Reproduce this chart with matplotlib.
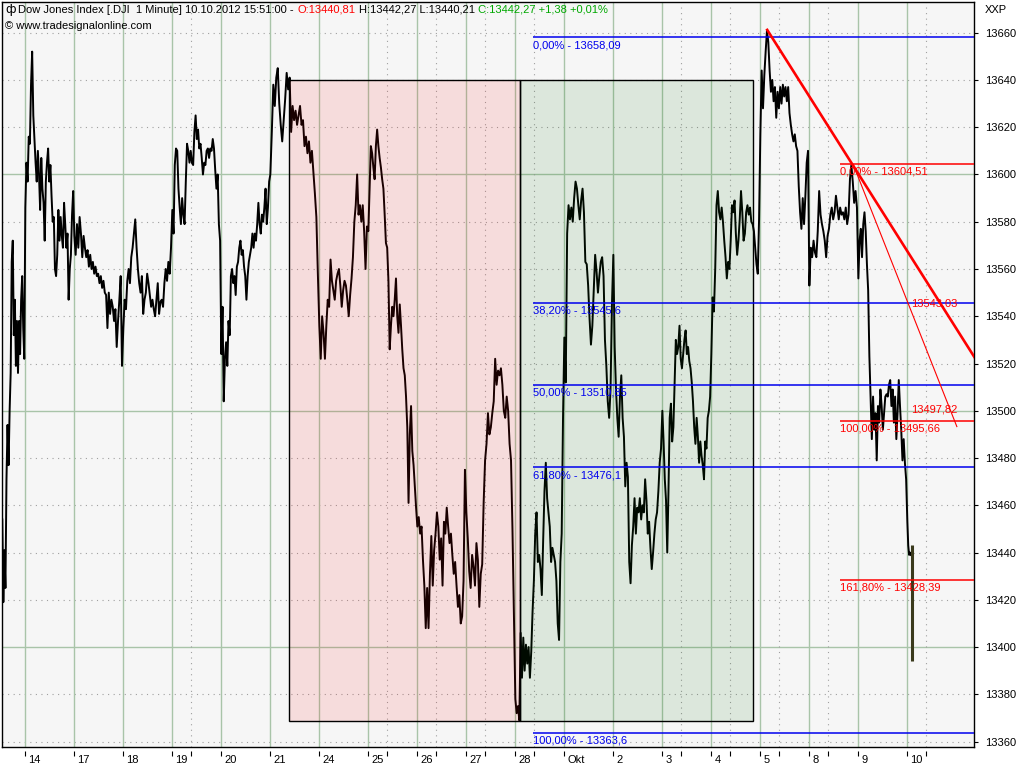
import numpy as np
import matplotlib.pyplot as plt
from matplotlib.patches import Rectangle
from matplotlib.transforms import ScaledTranslation

plt.rcParams['font.family'] = ['Liberation Sans', 'DejaVu Sans']
plt.rcParams['font.size'] = 8

# sessions on the x axis, one unit per trading day
day_labels = ['14', '17', '18', '19', '20', '21', '24', '25', '26', '27', '28',
              'Okt', '2', '3', '4', '5', '8', '9', '10']
minor_days = [3, 7, 8, 9, 10, 13, 14, 15, 16, 18]

s_13 = [13454, 13419, 13441, 13425, 13471, 13494, 13477, 13500, 13516, 13563, 13572,
        13532, 13547, 13519, 13538, 13516, 13538, 13524, 13547, 13557, 13535, 13522]
s_14 = [13586, 13605, 13597, 13616, 13613, 13638, 13652, 13625, 13615, 13605, 13597,
        13610, 13600, 13585, 13607, 13594, 13588, 13572, 13597, 13605, 13611, 13597,
        13604, 13591, 13580, 13582, 13560, 13557, 13566, 13585, 13572, 13582, 13574,
        13569, 13588, 13579, 13569, 13575, 13547, 13560, 13566, 13583, 13593]
s_17 = [13574, 13566, 13579, 13569, 13582, 13575, 13565, 13574, 13569, 13565, 13568,
        13561, 13566, 13560, 13563, 13558, 13561, 13557, 13558, 13554, 13557, 13552,
        13555, 13550, 13549, 13535, 13550, 13541, 13547, 13544, 13538, 13543, 13527,
        13538, 13547, 13557, 13519]
s_18 = [13535, 13547, 13543, 13555, 13560, 13554, 13565, 13569, 13575, 13581, 13569,
        13560, 13554, 13550, 13557, 13541, 13547, 13550, 13558, 13554, 13549, 13544,
        13547, 13543, 13540, 13547, 13554, 13541, 13546, 13547, 13544, 13554, 13560,
        13555, 13563, 13558, 13569]
s_19 = [13585, 13575, 13604, 13611, 13610, 13594, 13586, 13579, 13590, 13583, 13579,
        13597, 13613, 13610, 13605, 13610, 13605, 13604, 13618, 13625, 13615, 13619,
        13611, 13613, 13607, 13600, 13605, 13604, 13610, 13611, 13607, 13611, 13610,
        13615, 13611, 13602, 13594, 13600, 13579, 13572]
s_20 = [13524, 13544, 13504, 13522, 13529, 13519, 13538, 13532, 13557, 13560, 13554,
        13557, 13549, 13561, 13563, 13569, 13572, 13566, 13568, 13561, 13557, 13547,
        13557, 13563, 13566, 13569, 13575, 13569, 13575, 13572, 13579, 13588, 13579,
        13575, 13583, 13580, 13586, 13594, 13579, 13586, 13597]
s_21 = [13600, 13618, 13638, 13629, 13641, 13645, 13630, 13621, 13614, 13623, 13632,
        13643, 13636, 13641, 13618, 13629, 13623, 13627, 13621, 13625, 13629, 13621,
        13623, 13612, 13616, 13609, 13614, 13605, 13610, 13601, 13592, 13582, 13558]
s_24 = [13536, 13522, 13540, 13533, 13522, 13536, 13547, 13544, 13564, 13555, 13551,
        13547, 13555, 13558, 13560, 13553, 13544, 13551, 13555, 13553, 13547, 13540,
        13549, 13556, 13565, 13580, 13587, 13600, 13583, 13587, 13580, 13587, 13576,
        13560, 13578]
s_25 = [13576, 13594, 13612, 13609, 13603, 13598, 13612, 13619, 13612, 13607, 13603,
        13598, 13594, 13583, 13571, 13569, 13555, 13526, 13536, 13544, 13540, 13547,
        13556, 13540, 13533, 13545, 13536, 13526, 13518, 13515, 13506, 13493, 13461,
        13490, 13502, 13483, 13477, 13468, 13459]
s_26 = [13451, 13455, 13448, 13451, 13437, 13426, 13408, 13425, 13408, 13431, 13447,
        13426, 13441, 13448, 13457, 13451, 13437, 13446, 13426, 13453, 13448, 13459,
        13451, 13444, 13448, 13439, 13431, 13436, 13426, 13417, 13422, 13410, 13413,
        13428, 13475]
s_27 = [13457, 13446, 13432, 13425, 13439, 13434, 13426, 13444, 13437, 13417, 13431,
        13435, 13461, 13479, 13486, 13499, 13490, 13493, 13499, 13504, 13522, 13511,
        13517, 13515, 13518, 13511, 13500, 13497, 13506, 13500, 13486, 13479, 13450,
        13414]
s_28 = [13378, 13372, 13375, 13369, 13406, 13387, 13404, 13390, 13401, 13393, 13400,
        13387, 13398, 13415, 13428, 13448, 13457, 13436, 13439, 13433, 13422, 13445,
        13466, 13478, 13463, 13457, 13451, 13436, 13442, 13439, 13436, 13428, 13410,
        13403, 13436, 13448, 13497]
s_01 = [13531, 13512, 13575, 13587, 13581, 13586, 13580, 13590, 13597, 13594, 13587,
        13581, 13589, 13594, 13584, 13563, 13562, 13553, 13539, 13528, 13536, 13551,
        13566, 13559, 13550, 13557, 13563, 13565, 13557, 13530, 13519, 13504, 13497,
        13509, 13545]
s_02 = [13566, 13527, 13509, 13497, 13489, 13506, 13515, 13497, 13489, 13468, 13478,
        13472, 13436, 13427, 13443, 13451, 13463, 13448, 13459, 13457, 13463, 13454,
        13460, 13457, 13471, 13462, 13448, 13453, 13442, 13433, 13440, 13448, 13454,
        13457, 13466, 13478, 13484]
s_03 = [13500, 13487, 13471, 13462, 13440, 13466, 13497, 13503, 13487, 13493, 13512,
        13530, 13524, 13527, 13536, 13522, 13518, 13524, 13530, 13534, 13524, 13527,
        13521, 13518, 13512, 13504, 13493, 13486, 13497, 13489, 13478, 13487, 13481,
        13477, 13471, 13487, 13484, 13497, 13500, 13506]
s_04 = [13524, 13548, 13542, 13560, 13587, 13593, 13584, 13581, 13586, 13580, 13572,
        13565, 13556, 13563, 13560, 13572, 13587, 13584, 13589, 13575, 13566, 13572,
        13581, 13593, 13584, 13572, 13575, 13584, 13587, 13583, 13586, 13580, 13579,
        13576, 13569, 13562, 13558, 13581]
s_05 = [13617, 13644, 13628, 13642, 13652, 13661, 13656, 13644, 13635, 13640, 13631,
        13637, 13624, 13635, 13628, 13637, 13630, 13638, 13633, 13637, 13631, 13637,
        13626, 13621, 13617, 13614, 13617, 13612, 13610, 13595, 13584, 13577, 13590,
        13579, 13591, 13605, 13610]
s_08 = [13553, 13569, 13565, 13572, 13567, 13565, 13576, 13593, 13583, 13579, 13576,
        13572, 13565, 13574, 13577, 13583, 13586, 13581, 13584, 13591, 13586, 13581,
        13586, 13583, 13584, 13581, 13586, 13579, 13583, 13598, 13604, 13597, 13588,
        13593, 13586]
s_09 = [13556, 13572, 13577, 13565, 13579, 13584, 13576, 13562, 13551, 13523, 13505,
        13488, 13506, 13492, 13499, 13479, 13502, 13495, 13509, 13502, 13492, 13499,
        13506, 13507, 13506, 13511, 13513, 13502, 13509, 13495, 13506, 13488, 13499,
        13513, 13502, 13492, 13479, 13488, 13478, 13471]
s_10 = [13453, 13443, 13439, 13440, 13439]

sessions = [s_13, s_14, s_17, s_18, s_19, s_20, s_21, s_24, s_25, s_26, s_27, s_28,
            s_01, s_02, s_03, s_04, s_05, s_08, s_09, s_10]
session_start = [-0.47] + list(range(19))
session_length = [0.47] + [1] * 18 + [0.09]

# last (current) bar
last_time, last_low, last_high = 18.1, 13394, 13443

# Fibonacci retracement (blue) and extension (red)
blue_levels = [13658.09, 13545.6, 13510.85, 13476.1, 13363.6]
blue_text = ['0,00% - 13658,09', '38,20% - 13545,6', '50,00% - 13510,85',
             '61,80% - 13476,1', '100,00% - 13363,6']
blue_from = 10.36
red_levels = [13604.51, 13495.66, 13428.39]
red_text = ['0,00% - 13604,51', '100,00% - 13495,66', '161,80% - 13428,39']
red_from = 16.63

# trend lines and fan labels
thick_x, thick_y = [15.14, 19.42], [13661.2, 13521.0]
thin_x, thin_y = [16.90, 19.01], [13604.0, 13493.3]
fan_labels = [('13543,03', 18.08, 13545.3), ('13497,82', 18.08, 13500.7)]

# boxes
box_low, box_high = 13368.5, 13640.0
pink_box = (5.39, 10.10)
green_box = (10.10, 14.85)

xmin, xmax = -0.476, 19.36
ymin, ymax = 13357.7, 13673.0

fig = plt.figure(figsize=(10.24, 7.68), dpi=100)
ax = fig.add_axes([2 / 1024, 21 / 768, 972 / 1024, 745 / 768])
ax.set_facecolor('#f6f6f6')
ax.set_xlim(xmin, xmax)
ax.set_ylim(ymin, ymax)

grid_green = '#a9c4a9'
dots = (0, (1, 4))
for v in range(13360, 13661, 20):
    if v % 100 == 0:
        ax.axhline(v, color=grid_green, lw=1, zorder=1)
    else:
        ax.axhline(v, color='#a0a0a0', lw=0.8, ls=dots, zorder=1)
for i in range(len(day_labels)):
    ax.axvline(i, color=grid_green, lw=1, zorder=1)
for m in minor_days:
    ax.axvline(m + 0.375, color='#a0a0a0', lw=0.8, ls=dots, zorder=1)

# price line
t_all, p_all = [], []
for st, ln, prices in zip(session_start, session_length, sessions):
    t_all.extend(np.linspace(st, st + ln, len(prices), endpoint=False))
    p_all.extend(prices)
ax.plot(t_all, p_all, color='black', lw=1.4, zorder=2)
ax.vlines(last_time, last_low, last_high, color='#3a3a1c', lw=2.2, zorder=2)

# boxes on top, translucent
ax.add_patch(Rectangle((pink_box[0], box_low), pink_box[1] - pink_box[0], box_high - box_low,
                       facecolor=(1, 0, 0, 0.1), edgecolor='black', lw=1, zorder=3))
ax.add_patch(Rectangle((green_box[0], box_low), green_box[1] - green_box[0], box_high - box_low,
                       facecolor=(0, 0.4, 0, 0.1), edgecolor='black', lw=1, zorder=3))

# fib lines
ax.hlines(blue_levels, blue_from, xmax, color='#0000ee', lw=1.1, zorder=4)
for lv, tx in zip(blue_levels, blue_text):
    ax.annotate(tx, (blue_from, lv), xytext=(0, -2), textcoords='offset points',
                ha='left', va='top', color='#0000ee', fontsize=8, zorder=6)
ax.hlines(red_levels, red_from, xmax, color='red', lw=1.1, zorder=4)
for lv, tx in zip(red_levels, red_text):
    ax.annotate(tx, (red_from, lv), xytext=(0, -2), textcoords='offset points',
                ha='left', va='top', color='red', fontsize=8, zorder=6)

ax.plot(thick_x, thick_y, color='red', lw=1.9, zorder=5)
ax.plot(thin_x, thin_y, color='red', lw=0.8, zorder=5)
for tx, x, y in fan_labels:
    ax.text(x, y, tx, color='red', ha='left', va='center', fontsize=8, zorder=6)

for sp in ax.spines.values():
    sp.set_color('black')
    sp.set_linewidth(1)

# x axis
ax.set_xticks(range(len(day_labels)))
ax.set_xticklabels(day_labels, ha='left')
ax.set_xticks([m + 0.375 for m in minor_days], minor=True)
ax.tick_params(axis='x', which='both', length=0, pad=5.5)
shift = ScaledTranslation(3 / 100, 0, fig.dpi_scale_trans)
for lab in ax.get_xticklabels():
    lab.set_transform(lab.get_transform() + shift)
ax.vlines(list(range(len(day_labels))) + [m + 0.375 for m in minor_days], -0.0055, -0.012,
          transform=ax.get_xaxis_transform(), clip_on=False, color='black', lw=0.8)

# y axis on the right
ax.yaxis.tick_right()
yt = list(range(13360, 13661, 20))
ax.set_yticks(yt)
ax.set_yticklabels([str(v) for v in yt])
ax.tick_params(axis='y', length=3, width=0.8, pad=5, labelsize=8)
fig.text(985 / 1024, 1 - 10 / 768, 'XXP', ha='left', va='center', fontsize=8)

# header
fig.text(5 / 1024, 1 - 10 / 768, 'ф', ha='left', va='center', fontsize=9, family='DejaVu Sans')
pieces = [('Dow Jones Index [.DJI  1 Minute] 10.10.2012 15:51:00 -', 'black'),
          ('O:13440,81', 'red'),
          ('H:13442,27 L:13440,21', 'black'),
          ('C:13442,27 +1,38 +0,01%', '#00a800')]
renderer = fig.canvas.get_renderer()
xpix = 18
for txt, col in pieces:
    t = fig.text(xpix / 1024, 1 - 10 / 768, txt, ha='left', va='center', color=col, fontsize=8)
    bb = t.get_window_extent(renderer)
    xpix = bb.x1 + 3.5
fig.text(5 / 1024, 1 - 26 / 768, '© www.tradesignalonline.com', ha='left', va='center', fontsize=8)

fig.savefig('out.png', dpi=100)
